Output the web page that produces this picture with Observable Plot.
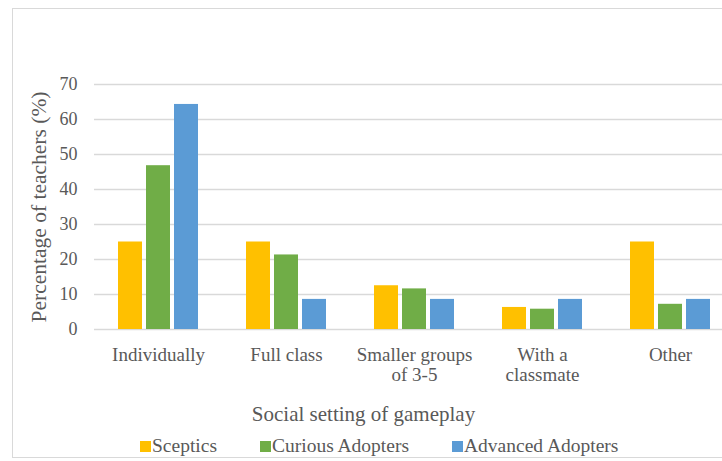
<!DOCTYPE html>
<html>
<head>
<meta charset="utf-8">
<script src="https://cdn.jsdelivr.net/npm/d3@7"></script>
<script src="https://cdn.jsdelivr.net/npm/@observablehq/plot@0.6"></script>
<style>
  html, body { margin: 0; padding: 0; background: #fff; overflow: hidden; }
  #wrap { position: relative; width: 722px; height: 461px; overflow: hidden; font-family: "Liberation Serif", "Times New Roman", serif; color: #595959; }
  #frame { position: absolute; left: 12px; top: 8px; width: 760px; height: 450px; border: 1.5px solid #d9d9d9; box-sizing: border-box; }
  #chart { position: absolute; left: 0; top: 0; }
  #chart svg, #chart text { font-family: "Liberation Serif", "Times New Roman", serif; }
  #xtitle { position: absolute; left: 0; width: 727px; top: 404px; text-align: center; font-size: 21px; line-height: 21px; white-space: nowrap; }
  #legend { position: absolute; left: 140px; top: 436px; display: flex; gap: 43px; font-size: 19.5px; line-height: 19.5px; white-space: nowrap; }
  #legend .item { display: flex; align-items: flex-start; }
  #legend .sw { width: 11px; height: 11px; margin-top: 5px; margin-right: 1px; }
</style>
</head>
<body>
<div id="wrap">
  <div id="frame"></div>
  <div id="chart"></div>
  <div id="xtitle"></div>
  <div id="legend"></div>
</div>
<script>
// Social setting in which each teacher group has pupils play games (% of teachers)
const categories = ["Individually", "Full class", "Smaller groups\nof 3-5", "With a\nclassmate", "Other"];
const series = ["Sceptics", "Curious Adopters", "Advanced Adopters"];
const sceptics = [25.0, 25.0, 12.5, 6.3, 25.0];
const curiousAdopters = [46.8, 21.3, 11.6, 5.8, 7.2];
const advancedAdopters = [64.3, 8.6, 8.6, 8.6, 8.6];
const colors = ["#FFC000", "#70AD47", "#5B9BD5"];
const yTicks = [0, 10, 20, 30, 40, 50, 60, 70];
const yTitle = "Percentage of teachers (%)";
const xTitle = "Social setting of gameplay";

const valuesBySeries = [sceptics, curiousAdopters, advancedAdopters];
const rows = [];
categories.forEach((c, i) => {
  series.forEach((s, j) => rows.push({category: c, series: s, value: valuesBySeries[j][i]}));
});

const serif = '"Liberation Serif", "Times New Roman", serif';

const chart = Plot.plot({
  width: 722,
  height: 400,
  marginLeft: 94,
  marginRight: -12,
  marginTop: 84,
  marginBottom: 71,
  style: {fontFamily: serif, color: "#595959", background: "transparent", overflow: "visible"},
  fx: {domain: categories, padding: 0, label: null},
  x: {domain: series, paddingInner: 0.152, paddingOuter: 0.84, axis: null},
  y: {domain: [0, 70], axis: null},
  color: {domain: series, range: colors},
  marks: [
    Plot.ruleY(yTicks, {y: d => d, stroke: "#d9d9d9", strokeWidth: 1.3}),
    Plot.barY(rows, {fx: "category", x: "series", y: "value", fill: "series"}),
    Plot.axisY(yTicks, {anchor: "left", tickSize: 0, tickPadding: 17, fontSize: 18, fontFamily: serif, label: null}),
    Plot.axisY({anchor: "left", ticks: [], tickSize: 0, label: yTitle, labelAnchor: "center", labelArrow: "none", labelOffset: 64, fontSize: 21.5, fontFamily: serif}),
    Plot.axisFx({anchor: "bottom", tickSize: 0, tickPadding: 18, fontSize: 19, fontFamily: serif, lineHeight: 1.02, label: null})
  ]
});
document.getElementById("chart").appendChild(chart);

document.getElementById("xtitle").textContent = xTitle;
const legend = document.getElementById("legend");
series.forEach((s, j) => {
  const item = document.createElement("div");
  item.className = "item";
  const sw = document.createElement("span");
  sw.className = "sw";
  sw.style.background = colors[j];
  const label = document.createElement("span");
  label.textContent = s;
  item.append(sw, label);
  legend.appendChild(item);
});
</script>
</body>
</html>
